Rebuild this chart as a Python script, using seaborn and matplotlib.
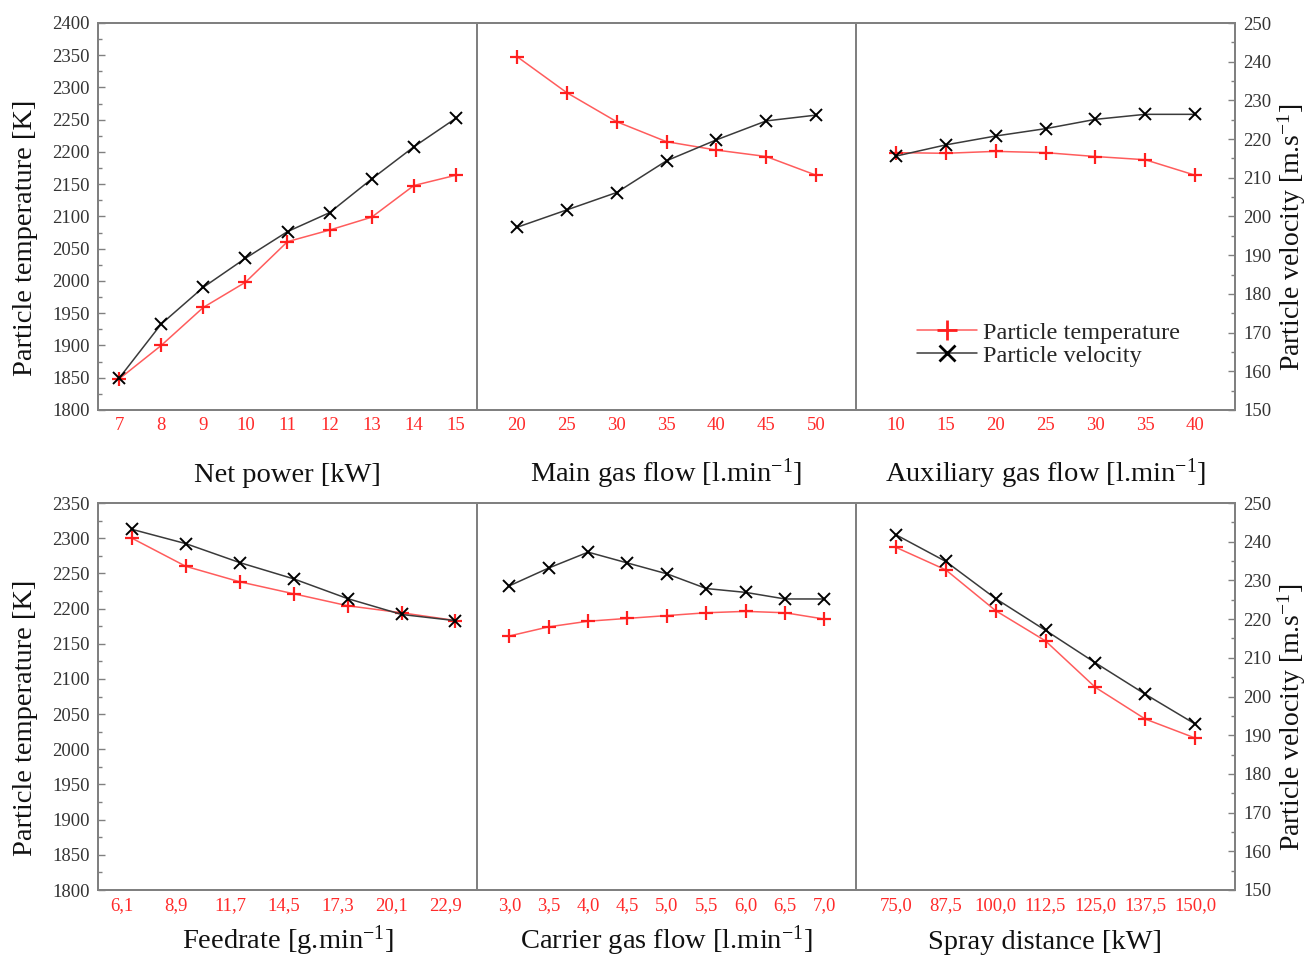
import numpy as np
import pandas as pd
import matplotlib
matplotlib.use("Agg")
import matplotlib.pyplot as plt
from matplotlib.lines import Line2D
from matplotlib.ticker import MultipleLocator
import seaborn as sns

sns.set_style("white")
plt.rcParams['font.family'] = ['Liberation Serif', 'DejaVu Serif']
plt.rcParams['mathtext.default'] = 'regular'

# ---------------- data ----------------
net_power = [7, 8, 9, 10, 11, 12, 13, 14, 15]
net_power_temp = [1848, 1900, 1959, 1998, 2061, 2079, 2099, 2148, 2164]
net_power_vel = [158.2, 172.2, 181.7, 189.2, 196.1, 201.0, 209.7, 218.0, 225.4]
net_power_ticks = [7, 8, 9, 10, 11, 12, 13, 14, 15]
net_power_labels = ["7", "8", "9", "10", "11", "12", "13", "14", "15"]

main_gas = [20, 25, 30, 35, 40, 45, 50]
main_gas_temp = [2348, 2292, 2247, 2216, 2203, 2193, 2164]
main_gas_vel = [197.2, 201.7, 206.2, 214.4, 219.8, 224.7, 226.2]
main_gas_ticks = [20, 25, 30, 35, 40, 45, 50]
main_gas_labels = ["20", "25", "30", "35", "40", "45", "50"]

aux_gas = [10, 15, 20, 25, 30, 35, 40]
aux_gas_temp = [2199, 2198, 2201, 2199, 2193, 2188, 2164]
aux_gas_vel = [215.6, 218.5, 220.8, 222.7, 225.1, 226.4, 226.4]
aux_gas_ticks = [10, 15, 20, 25, 30, 35, 40]
aux_gas_labels = ["10", "15", "20", "25", "30", "35", "40"]

feedrate = [6.6, 9.4, 12.2, 15.0, 17.8, 20.6, 23.4]
feedrate_temp = [2300, 2260, 2238, 2221, 2204, 2194, 2183]
feedrate_vel = [243.2, 239.5, 234.6, 230.4, 225.3, 221.2, 219.6]
feedrate_ticks = [6.1, 8.9, 11.7, 14.5, 17.3, 20.1, 22.9]
feedrate_labels = ["6,1", "8,9", "11,7", "14,5", "17,3", "20,1", "22,9"]

carrier_gas = [3.0, 3.5, 4.0, 4.5, 5.0, 5.5, 6.0, 6.5, 7.0]
carrier_gas_temp = [2161, 2174, 2182, 2186, 2190, 2194, 2196, 2194, 2185]
carrier_gas_vel = [228.6, 233.2, 237.3, 234.5, 231.7, 227.9, 226.9, 225.2, 225.2]
carrier_gas_ticks = [3.0, 3.5, 4.0, 4.5, 5.0, 5.5, 6.0, 6.5, 7.0]
carrier_gas_labels = ["3,0", "3,5", "4,0", "4,5", "5,0", "5,5", "6,0", "6,5", "7,0"]

spray = [75.0, 87.5, 100.0, 112.5, 125.0, 137.5, 150.0]
spray_temp = [2287, 2255, 2197, 2154, 2088, 2043, 2016]
spray_vel = [241.8, 234.9, 225.3, 217.1, 208.7, 200.6, 192.9]
spray_ticks = [75.0, 87.5, 100.0, 112.5, 125.0, 137.5, 150.0]
spray_labels = ["75,0", "87,5", "100,0", "112,5", "125,0", "137,5", "150,0"]

xlabels = ["Net power [kW]", "Main gas flow [l.min$^{-1}$]", "Auxiliary gas flow [l.min$^{-1}$]",
           "Feedrate [g.min$^{-1}$]", "Carrier gas flow [l.min$^{-1}$]", "Spray distance [kW]"]
temp_label = "Particle temperature [K]"
vel_label = "Particle velocity [m.s$^{-1}$]"
legend_labels = ["Particle temperature", "Particle velocity"]

panels = [
    (net_power, net_power_temp, net_power_vel, net_power_ticks, net_power_labels, (6.5, 15.5)),
    (main_gas, main_gas_temp, main_gas_vel, main_gas_ticks, main_gas_labels, (16, 54)),
    (aux_gas, aux_gas_temp, aux_gas_vel, aux_gas_ticks, aux_gas_labels, (6, 44)),
    (feedrate, feedrate_temp, feedrate_vel, feedrate_ticks, feedrate_labels, (4.84, 24.52)),
    (carrier_gas, carrier_gas_temp, carrier_gas_vel, carrier_gas_ticks, carrier_gas_labels, (2.59, 7.4)),
    (spray, spray_temp, spray_vel, spray_ticks, spray_labels, (65, 160)),
]

RED_LINE = "#ff5c5c"
RED_MARK = "#ff1f1f"
BLK_LINE = "#3a3a3a"
SPINE = "#808080"
LABEL_FS = 20.5
TICK_FS = 13.5

W, H = 1311, 960
fig = plt.figure(figsize=(W / 100, H / 100), dpi=100)

left_px = [98, 477, 856]
pw = 379
rows = [(23, 410), (503, 890)]
temp_lims = [(1800, 2400), (1800, 2350)]
xlabel_y = [-0.186, -0.152]

axes_main = []
for i, (x, t, v, ticks, tlabels, xlim) in enumerate(panels):
    r, c = divmod(i, 3)
    top, bot = rows[r]
    ax = fig.add_axes([left_px[c] / W, 1 - bot / H, pw / W, (bot - top) / H])
    ax2 = ax.twinx()
    df = pd.DataFrame({"x": x, "temp": t, "vel": v})
    sns.lineplot(data=df, x="x", y="temp", ax=ax, color=RED_LINE, linewidth=1.1,
                 marker="+", markersize=10, markeredgewidth=1.6,
                 markeredgecolor=RED_MARK, markerfacecolor=RED_MARK)
    sns.lineplot(data=df, x="x", y="vel", ax=ax2, color=BLK_LINE, linewidth=1.1,
                 marker="x", markersize=8, markeredgewidth=1.4,
                 markeredgecolor="black", markerfacecolor="black")
    ax.set_xlim(*xlim)
    ax.set_ylim(*temp_lims[r])
    ax2.set_ylim(150, 250)
    ax.set_xticks(ticks)
    ax.set_xticklabels(tlabels, color="#ff2a2a", fontsize=TICK_FS)
    ax.tick_params(axis="x", direction="in", length=5, width=1, color=SPINE, pad=5)
    ax.set_ylabel("")
    ax2.set_ylabel("")
    ax.set_xlabel(xlabels[i], fontsize=LABEL_FS, color="#111111")
    ax.xaxis.set_label_coords(0.5, xlabel_y[r])
    ax.xaxis.label.set_va("baseline")

    ax.yaxis.set_major_locator(MultipleLocator(50))
    ax.yaxis.set_minor_locator(MultipleLocator(25))
    ax2.yaxis.set_major_locator(MultipleLocator(10))
    ax2.yaxis.set_minor_locator(MultipleLocator(5))

    if c == 0:
        ax.tick_params(axis="y", which="major", direction="in", length=5, width=1,
                       color=SPINE, labelsize=TICK_FS, labelcolor="#333333", pad=6)
        ax.tick_params(axis="y", which="minor", direction="in", length=3, width=1, color=SPINE)
        ax.set_ylabel(temp_label, fontsize=LABEL_FS, color="#111111")
        ax.yaxis.set_label_coords(-0.158, 0.445)
    else:
        ax.tick_params(axis="y", which="both", left=False, labelleft=False)
    if c == 2:
        ax2.tick_params(axis="y", which="major", direction="in", length=5, width=1,
                        color=SPINE, labelsize=TICK_FS, labelcolor="#333333", pad=6)
        ax2.tick_params(axis="y", which="minor", direction="in", length=3, width=1, color=SPINE)
        ax2.set_ylabel(vel_label, fontsize=20, color="#111111")
        ax2.yaxis.set_label_coords(1.108, 0.445)
    else:
        ax2.tick_params(axis="y", which="both", right=False, labelright=False)

    for a in (ax, ax2):
        for s in a.spines.values():
            s.set_color(SPINE)
            s.set_linewidth(1.4)
    if ax.get_legend() is not None:
        ax.get_legend().remove()
    if ax2.get_legend() is not None:
        ax2.get_legend().remove()
    axes_main.append((ax, ax2))

# legend in the auxiliary gas flow panel
ax_leg = axes_main[2][1]
handles = [
    Line2D([], [], color=RED_LINE, linewidth=1.1, marker="+", markersize=15,
           markeredgewidth=2, markeredgecolor=RED_MARK),
    Line2D([], [], color=BLK_LINE, linewidth=1.1, marker="x", markersize=12,
           markeredgewidth=2, markeredgecolor="black"),
]
ax_leg.legend(handles, legend_labels, loc="center left", bbox_to_anchor=(0.115, 0.17),
              frameon=False, fontsize=17.5, handlelength=2.5, handletextpad=0.25,
              labelspacing=0.05, borderpad=0.2)

fig.savefig("out.png", dpi=100, facecolor="white")
